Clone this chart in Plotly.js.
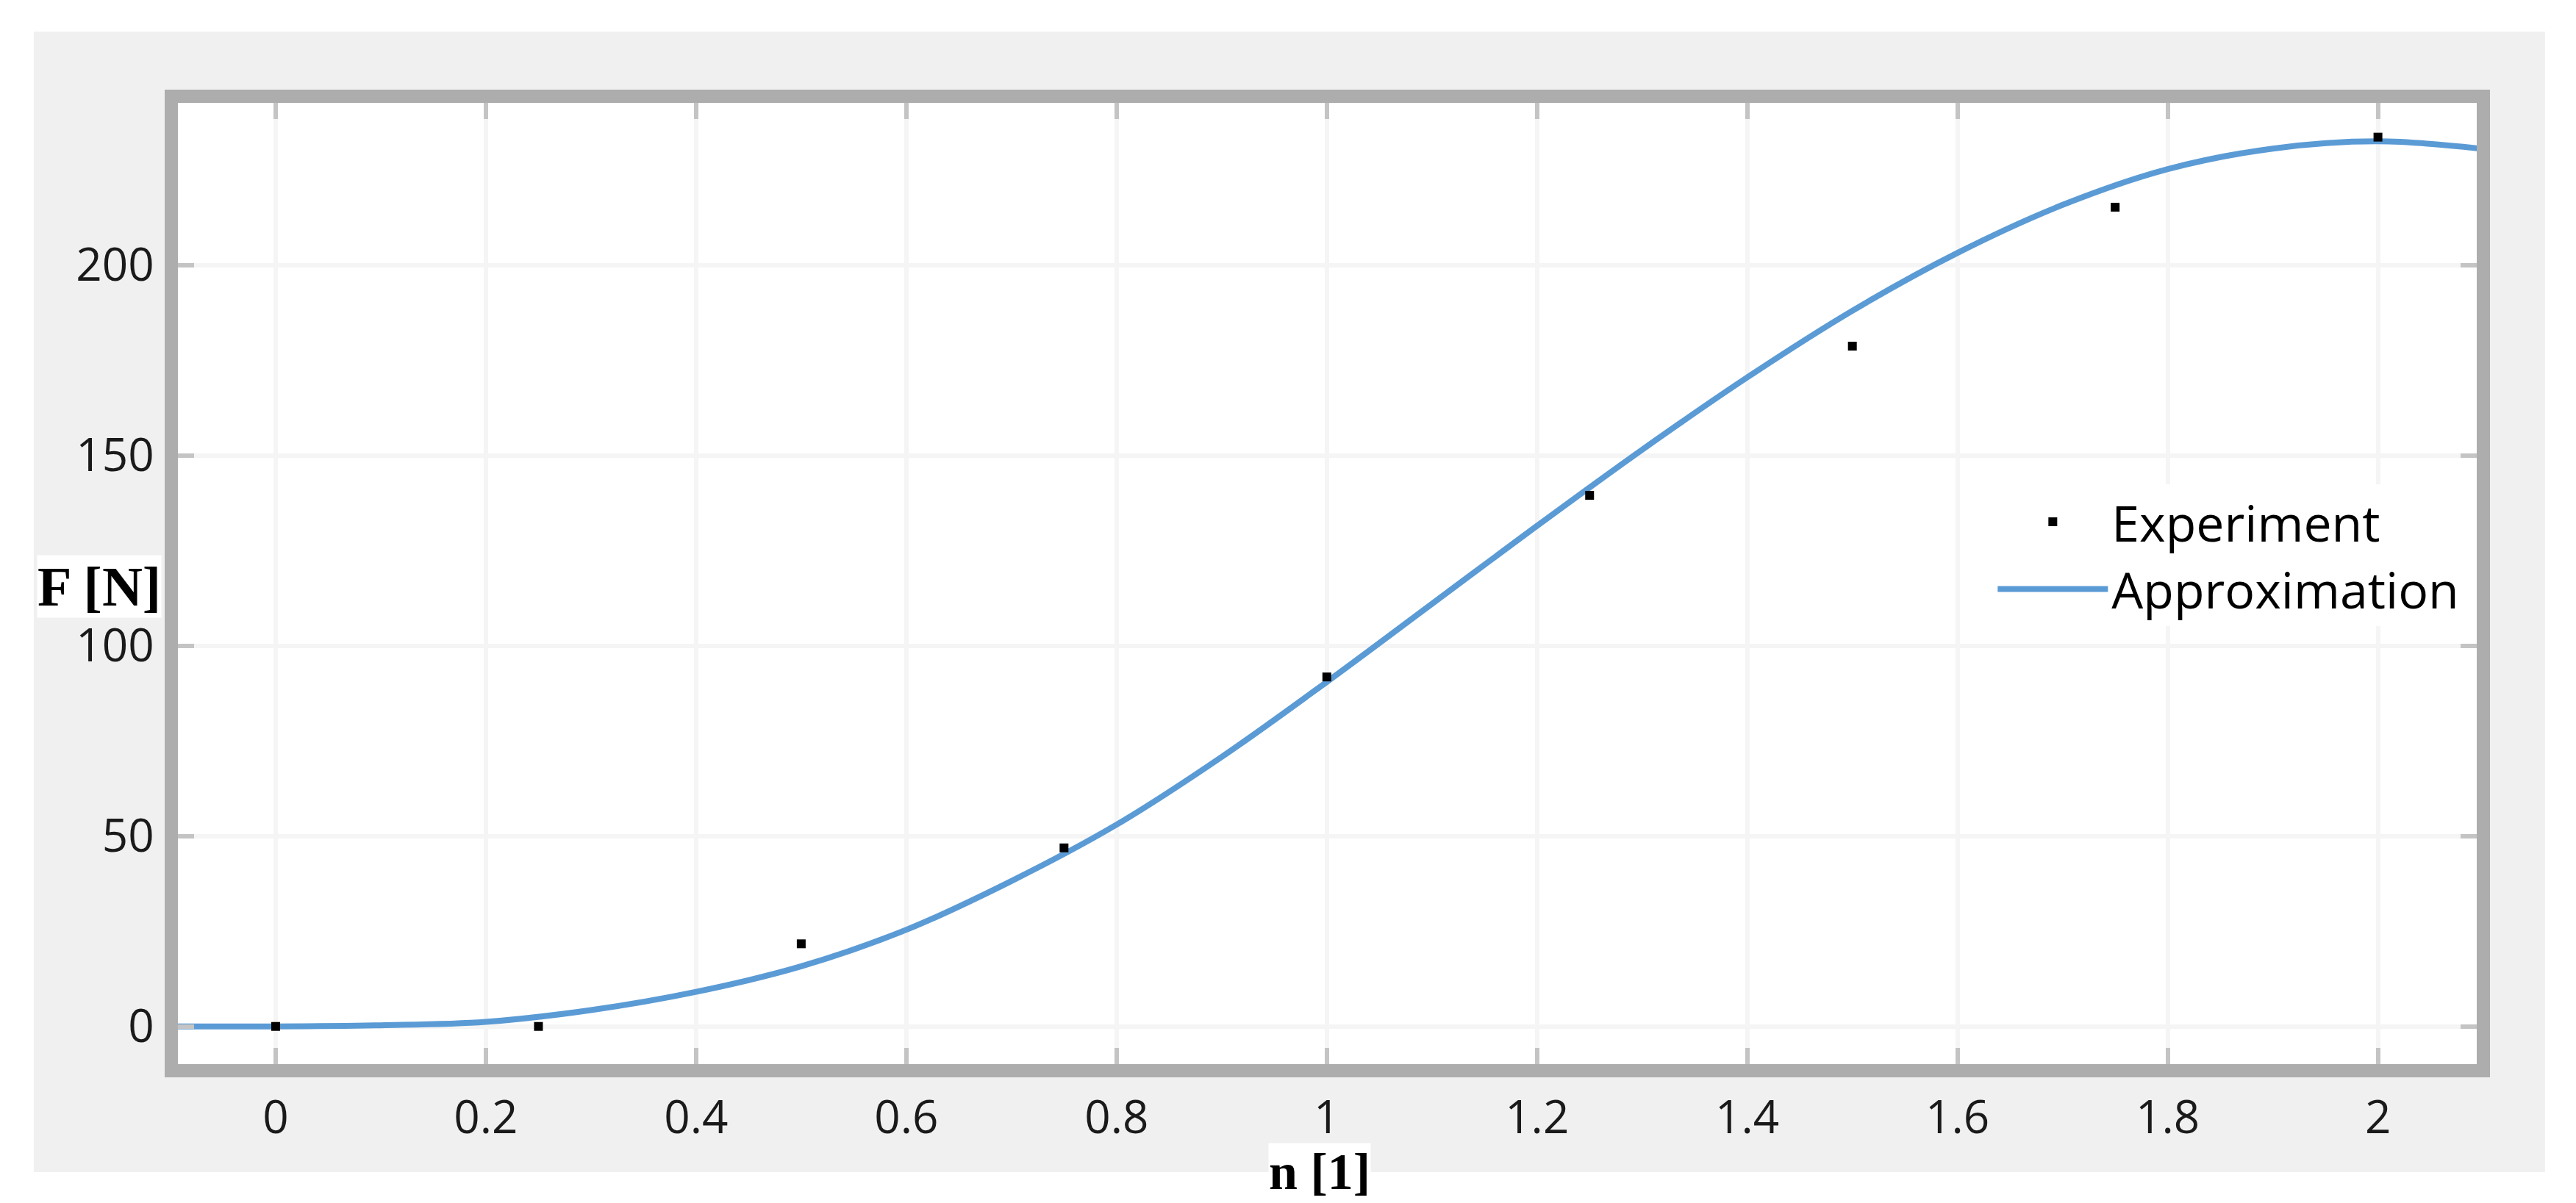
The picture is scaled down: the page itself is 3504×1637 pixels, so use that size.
<!DOCTYPE html>
<html>
<head>
<meta charset="utf-8">
<script src="https://cdn.plot.ly/plotly-3.0.1.min.js"></script>
<style>
  html, body { margin: 0; padding: 0; background: #ffffff; }
  #chart { width: 3504px; height: 1637px; }
</style>
</head>
<body>
<div id="chart"></div>
<script>
// Measured points (n, F)
let expN = [0, 0.25, 0.5, 0.75, 1, 1.25, 1.5, 1.75, 2];
let expF = [0, 0, 21.7, 46.9, 91.8, 139.5, 178.7, 215.2, 233.6];

// Approximation curve
let approxN = [-0.1, 0, 0.1, 0.2, 0.3, 0.4, 0.5, 0.6, 0.7, 0.8, 0.9, 1.0,
               1.1, 1.2, 1.3, 1.4, 1.5, 1.6, 1.7, 1.8, 1.9, 2.0, 2.1];
let approxF = [0, 0, 0.3, 1.2, 4.3, 9.1, 15.8, 25.4, 38.2, 53, 70.8, 90.5,
               111, 131.5, 151.5, 170.5, 188, 203.2, 215.8, 225.2, 230.6, 232.5, 230.5];

let xTicks = [0, 0.2, 0.4, 0.6, 0.8, 1, 1.2, 1.4, 1.6, 1.8, 2];
let yTicks = [0, 50, 100, 150, 200];

let tickFont = {family: "Open Sans, sans-serif", size: 62, color: "#1a1a1a"};
let titleFont = {family: "Liberation Serif, serif", size: 76, color: "#000000"};

// Set up the traces
let approx = {
    x: approxN,
    y: approxF,
    name: "Approximation",
    type: "scatter",
    mode: "lines",
    line: {color: "#5b9bd5", width: 8, shape: "spline", smoothing: 1},
    legendrank: 2
};

let experiment = {
    x: expN,
    y: expF,
    name: "Experiment",
    type: "scatter",
    mode: "markers",
    marker: {symbol: "square", size: 12, color: "#000000"},
    legendrank: 1
};

// Shared axis look
function axisStyle(range, ticks) {
    return {
        range: range,
        tickvals: ticks,
        ticktext: ticks.map(String),
        ticks: "inside",
        ticklen: 22,
        tickwidth: 6,
        tickcolor: "#c4c4c4",
        showline: true,
        linewidth: 18,
        linecolor: "#adadad",
        mirror: "ticks",
        showgrid: true,
        gridcolor: "#f5f5f5",
        gridwidth: 6,
        zeroline: false,
        tickfont: tickFont,
        fixedrange: true
    };
}

let xaxis = axisStyle([-0.093, 2.094], xTicks);
xaxis.ticklabelstandoff = 2;
let yaxis = axisStyle([-9.9, 242.6], yTicks);
yaxis.ticklabelstandoff = 2;

// Set up the Layout
let layout = {
    width: 3504,
    height: 1637,
    margin: {l: 242, r: 135, t: 140, b: 189, pad: 0},
    paper_bgcolor: "#ffffff",
    plot_bgcolor: "#ffffff",
    xaxis: xaxis,
    yaxis: yaxis,
    showlegend: true,
    legend: {
        x: 0.79,
        y: 0.603,
        xanchor: "left",
        yanchor: "top",
        bgcolor: "#ffffff",
        borderwidth: 0,
        itemwidth: 150,
        font: {family: "Open Sans, sans-serif", size: 68, color: "#000000"}
    },
    shapes: [
        // grey window behind the chart
        {
            type: "rect", xref: "paper", yref: "paper",
            x0: -0.0627, x1: 1.0297, y0: -0.1124, y1: 1.0742,
            fillcolor: "#f0f0f0", line: {width: 0}, layer: "below"
        },
        // white plotting area
        {
            type: "rect", xref: "paper", yref: "paper",
            x0: 0, x1: 1, y0: 0, y1: 1,
            fillcolor: "#ffffff", line: {width: 0}, layer: "below"
        }
    ],
    annotations: [
        {
            text: "<b>F [N]</b>", xref: "paper", yref: "paper",
            x: -0.0342, y: 0.497, xanchor: "center", yanchor: "middle",
            showarrow: false, font: titleFont, bgcolor: "#ffffff", borderpad: 0
        },
        {
            text: "<b>n [1]</b>", xref: "paper", yref: "paper",
            x: 0.4966, y: -0.112, xanchor: "center", yanchor: "middle",
            showarrow: false, font: {family: "Liberation Serif, serif", size: 70, color: "#000000"},
            bgcolor: "#ffffff", borderpad: 0
        }
    ]
};

// Call Plotly to plot the chart
Plotly.newPlot("chart", [approx, experiment], layout, {displayModeBar: false, staticPlot: true});
</script>
</body>
</html>
